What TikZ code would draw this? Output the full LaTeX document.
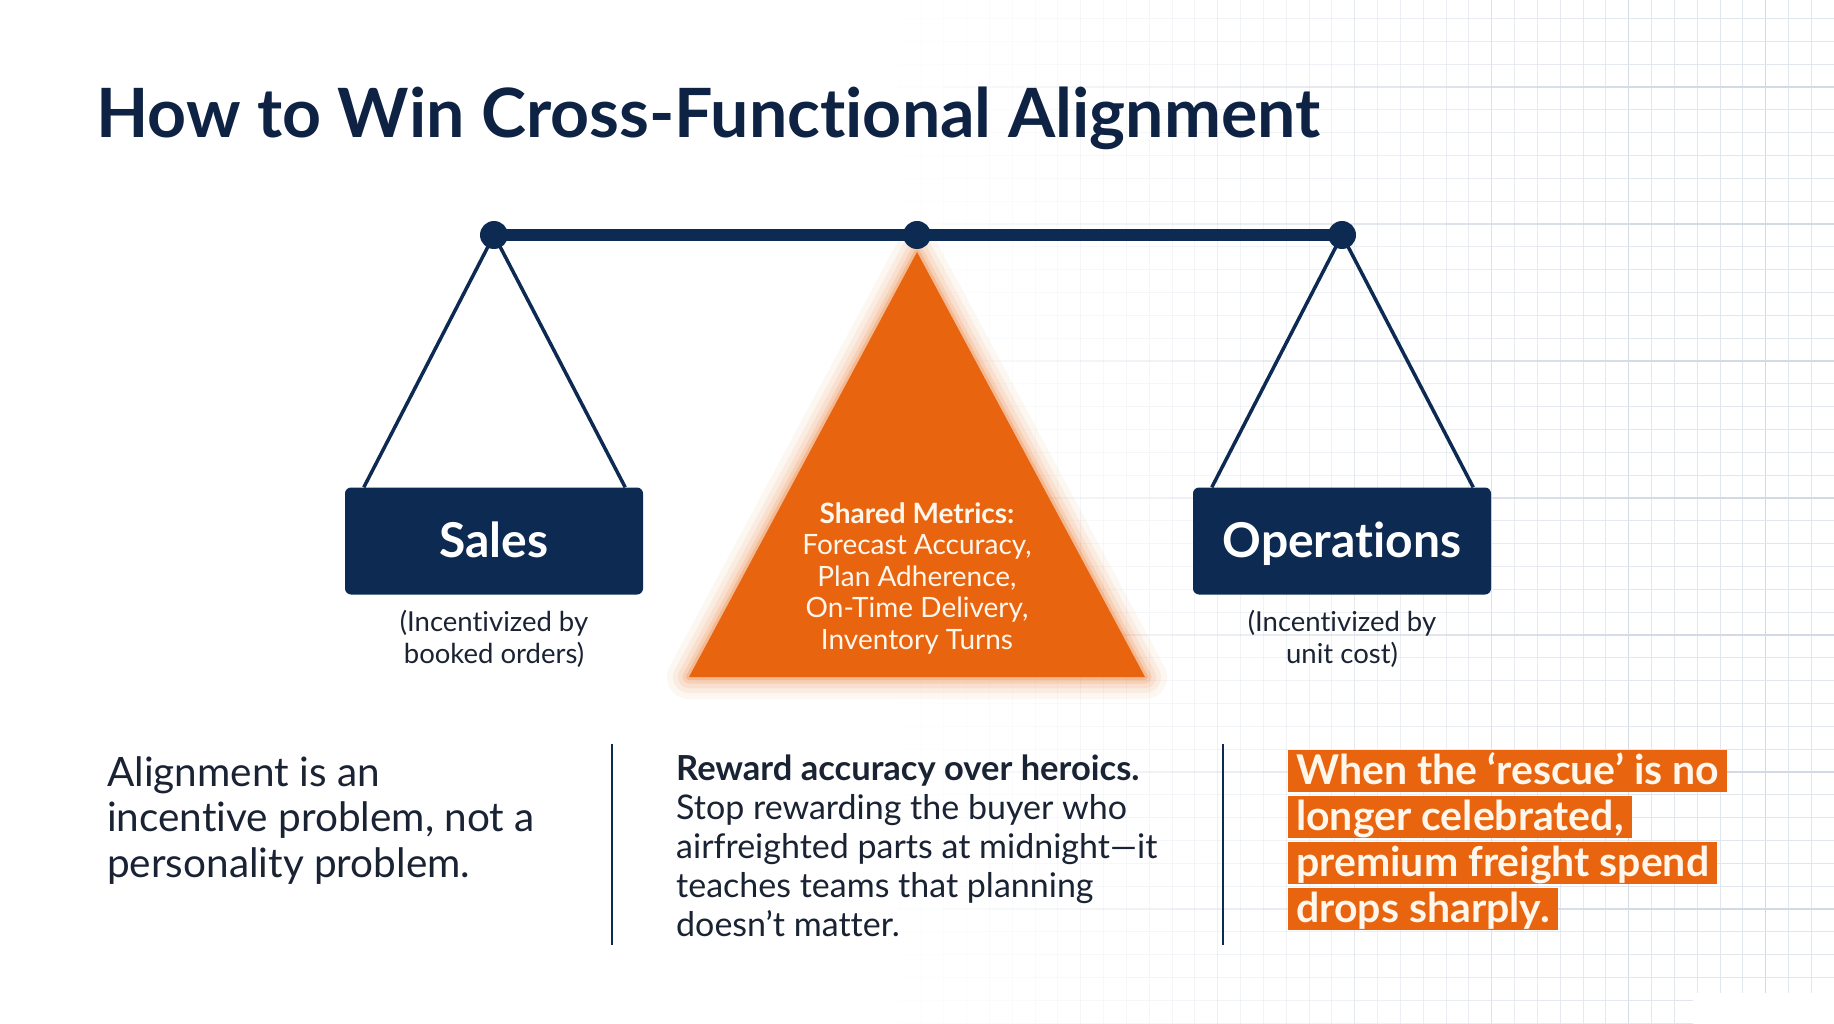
\documentclass[tikz,border=0pt]{standalone}
\usepackage{fontspec}
\setmainfont{Lato}[Ligatures={NoCommon}]
\usetikzlibrary{calc,backgrounds}
\definecolor{navy}{HTML}{0D2A52}
\definecolor{titlenavy}{HTML}{0E2244}
\definecolor{orng}{HTML}{E8640F}
\definecolor{cream}{HTML}{FFF6EC}
\definecolor{inkc}{HTML}{1A2333}
\definecolor{gridminor}{HTML}{E2E7EE}
\definecolor{gridmajor}{HTML}{D3DAE4}
\tikzset{
  pivot/.style={circle, fill=navy, minimum size=28pt, inner sep=0pt},
  teambox/.style={rectangle, rounded corners=6pt, fill=navy, minimum width=298pt, minimum height=107pt, inner sep=0pt},
  teamtext/.style={text=white, font=\bfseries\fontsize{48}{56}\selectfont, inner sep=0pt, anchor=base},
  string/.style={navy, line width=3.5pt},
  caption/.style={text=inkc, font=\fontsize{27.5}{32}\selectfont, inner sep=0pt, anchor=base},
  metric/.style={text=cream, font=\fontsize{28}{31}\selectfont, inner sep=0pt, anchor=base},
  leftline/.style={text=inkc, font=\fontsize{40.5}{46}\selectfont, inner sep=0pt, anchor=base west},
  midline/.style={text=inkc, font=\fontsize{34}{39}\selectfont, inner sep=0pt, anchor=base west},
  hl/.style={fill=orng, text=cream, font=\bfseries\fontsize{41}{46}\selectfont, inner xsep=8pt, inner ysep=0pt, text height=34pt, text depth=8pt, anchor=base west},
  divider/.style={navy, line width=2.5pt}
}
\begin{document}
\begin{tikzpicture}[x=1pt,y=-1pt]
\useasboundingbox (0,0) rectangle (1834,1024);

% title
\node[text=titlenavy, font=\bfseries\fontsize{68}{76}\selectfont, inner sep=0pt, anchor=base west] (title) at (96,138) {How to Win Cross-Functional Alignment};

% scale pivots
\node[pivot] (pL) at (494,235) {};
\node[pivot] (pC) at (917,235) {};
\node[pivot] (pR) at (1342,235) {};

% team boxes
\node[teambox] (sales) at (494,541) {};
\node[teamtext] (salest) at (494,557) {Sales};
\node[teambox] (ops) at (1342,541) {};
\node[teamtext] (opst) at (1342,557) {Operations};

% captions
\node[caption] (sc1) at (494,631) {(Incentivized by};
\node[caption] (sc2) at (494,663) {booked orders)};
\node[caption] (oc1) at (1342,631) {(Incentivized by};
\node[caption] (oc2) at (1342,663) {unit cost)};

% fulcrum triangle
\coordinate (apex) at (917,252);
\coordinate (bl) at (689,677);
\coordinate (br) at (1145,677);
\node[metric, font=\bfseries\fontsize{28}{31}\selectfont] (m0) at (917,523) {Shared Metrics:};
\node[metric] (m1) at (917,554.5) {Forecast Accuracy,};
\node[metric] (m2) at (917,586) {Plan Adherence,};
\node[metric] (m3) at (917,617.5) {On-Time Delivery,};
\node[metric] (m4) at (917,649) {Inventory Turns};

% bottom left
\node[leftline] (l1) at (107,786) {Alignment is an};
\node[leftline] (l2) at (107,831.5) {incentive problem, not a};
\node[leftline] (l3) at (107,877) {personality problem.};

% dividers
\coordinate (d1t) at (612,744); \coordinate (d1b) at (612,945);
\coordinate (d2t) at (1223,744); \coordinate (d2b) at (1223,945);
\draw[divider] (d1t) -- (d1b);
\draw[divider] (d2t) -- (d2b);

% middle
\node[midline, font=\bfseries\fontsize{34.5}{39}\selectfont] (c1) at (676,780) {Reward accuracy over heroics.};
\node[midline] (c2) at (676,819) {Stop rewarding the buyer who};
\node[midline] (c3) at (676,858) {airfreighted parts at midnight—it};
\node[midline] (c4) at (676,897) {teaches teams that planning};
\node[midline] (c5) at (676,936) {doesn’t matter.};

% right highlight
\node[hl] (h1) at (1288,784) {When the ‘rescue’ is no};
\node[hl] (h2) at (1288,830) {longer celebrated,};
\node[hl] (h3) at (1288,876) {premium freight spend};
\node[hl] (h4) at (1288,922) {drops sharply.};

\begin{scope}[on background layer]
  \fill[white] (0,0) rectangle (1834,1024);
  % grid
  \foreach \k in {0,...,51}{
    \pgfmathsetmacro\xx{669.7+\k*22.833}
    \pgfmathsetmacro\op{max(0,min(1,(\xx-880)/800))}
    \pgfmathtruncatemacro\mj{mod(\k,6)==0}
    \ifnum\mj=1
      \draw[gridmajor, line width=1.2pt, opacity=\op] (\xx,0) -- (\xx,1024);
    \else
      \draw[gridminor, line width=0.9pt, opacity=\op] (\xx,0) -- (\xx,1024);
    \fi
  }
  \foreach \j in {2,...,47}{
    \pgfmathsetmacro\yy{-50+\j*22.833}
    \pgfmathtruncatemacro\mj{mod(\j,6)==0}
    \foreach \k in {0,2,...,50}{
      \pgfmathsetmacro\xa{669.7+\k*22.833}
      \pgfmathsetmacro\xb{\xa+45.666}
      \pgfmathsetmacro\op{max(0,min(1,(\xa+22.8-880)/800))}
      \ifnum\mj=1
        \draw[gridmajor, line width=1.2pt, opacity=\op] (\xa,\yy) -- (\xb,\yy);
      \else
        \draw[gridminor, line width=0.9pt, opacity=\op] (\xa,\yy) -- (\xb,\yy);
      \fi
    }
  }
  \fill[white] (1693,993) rectangle (1834,1024);
  % glow
  \foreach \w/\o in {44/0.05, 32/0.07, 22/0.09, 13/0.13, 6/0.2}{
    \draw[orng, line width=\w pt, opacity=\o, line join=round] (apex) -- (bl) -- (br) -- cycle;
  }
  \fill[orng] (apex) -- (bl) -- (br) -- cycle;
  % beam and strings
  \draw[navy, line width=12pt] (pL.center) -- (pR.center);
  \draw[string] (pL.center) -- ($(sales.north west)+(19,0)$);
  \draw[string] (pL.center) -- ($(sales.north east)+(-18,0)$);
  \draw[string] (pR.center) -- ($(ops.north west)+(19,0)$);
  \draw[string] (pR.center) -- ($(ops.north east)+(-18,0)$);
\end{scope}
\end{tikzpicture}
\end{document}
